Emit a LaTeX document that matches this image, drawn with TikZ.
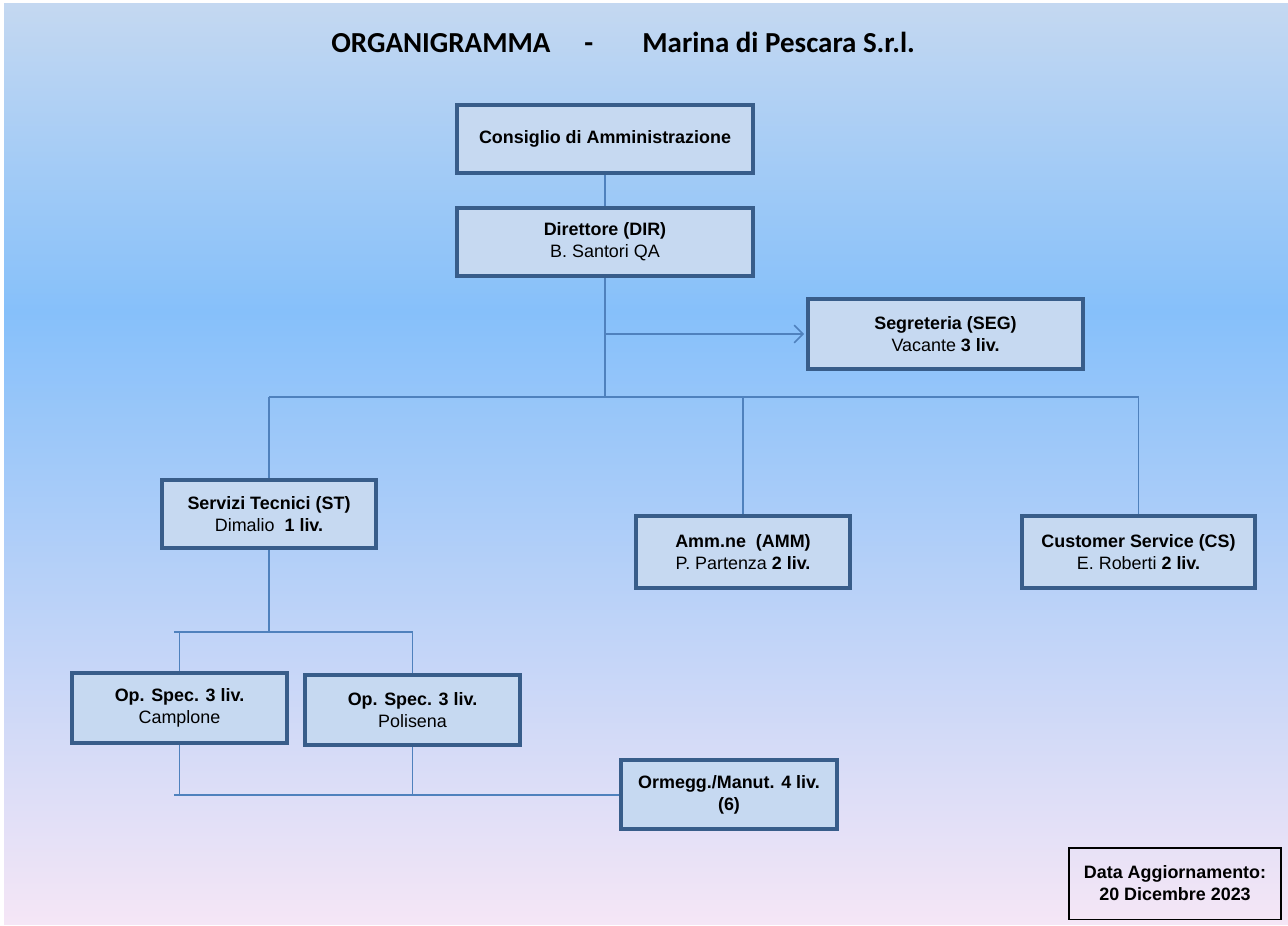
\documentclass[tikz,border=0pt]{standalone}
\usepackage{fontspec}
\setmainfont{Liberation Sans}
\newfontfamily\titlefont{Carlito}
\usepackage{xcolor}
\usetikzlibrary{arrows.meta,positioning}
\definecolor{boxfill}{RGB}{198,217,241}
\definecolor{boxline}{RGB}{56,93,138}
\definecolor{wireblue}{RGB}{79,129,189}
\definecolor{bgtop}{RGB}{196,216,241}
\definecolor{bgmid}{RGB}{134,192,250}
\definecolor{bgbot}{RGB}{245,230,246}
\pgfdeclareverticalshading{bgfade}{100bp}{color(0bp)=(bgbot); color(25bp)=(bgbot); color(58.3bp)=(bgmid); color(75bp)=(bgtop); color(100bp)=(bgtop)}

\begin{document}
\begin{tikzpicture}[x=0.02cm, y=-0.02cm,
    unit/.style={draw=boxline, line width=0.08cm, fill=boxfill, align=center, inner sep=2pt, font=\fontsize{10.2}{12.5}\selectfont},
    stamp/.style={draw=black, line width=0.03cm, align=center, inner sep=2pt, font=\fontsize{10.2}{12.5}\selectfont\bfseries},
    wire/.style={draw=wireblue, line width=0.7pt},
    >={Straight Barb[length=5pt,width=10pt,line width=0.9pt]}]
    \useasboundingbox (0,0) rectangle (1288,926);
    \fill[white] (0,0) rectangle (1288,926);
    \shade[shading=bgfade] (4,4) rectangle (1288,924);
    \node[anchor=west, inner sep=0, font=\titlefont\fontsize{16.5}{20}\selectfont\bfseries] (title) at (331,42) {ORGANIGRAMMA\hspace{0.68cm}-\hspace{0.98cm}Marina di Pescara S.r.l.};
    \node[unit, minimum width=5.92cm, minimum height=1.36cm] (cda) at (605,139) {\textbf{Consiglio di Amministrazione}};
    \node[unit, minimum width=5.92cm, minimum height=1.36cm] (dir) at (605,242) {\textbf{Direttore (DIR)}\\B. Santori QA};
    \node[unit, minimum width=5.5cm, minimum height=1.4cm] (seg) at (945.5,334) {\textbf{Segreteria (SEG)}\\Vacante \textbf{3 liv.}};
    \node[unit, minimum width=4.28cm, minimum height=1.36cm] (st) at (269,514) {\textbf{Servizi Tecnici (ST)}\\Dimalio\ \ \textbf{1 liv.}};
    \node[unit, minimum width=4.28cm, minimum height=1.44cm] (amm) at (743,552) {\textbf{Amm.ne\ \ (AMM)}\\P. Partenza \textbf{2 liv.}};
    \node[unit, minimum width=4.66cm, minimum height=1.44cm] (cs) at (1138.5,552) {\textbf{Customer Service (CS)}\\E. Roberti \textbf{2 liv.}};
    \node[unit, minimum width=4.3cm, minimum height=1.4cm] (op1) at (179.5,708) {\textbf{Op. Spec. 3 liv.}\\Camplone};
    \node[unit, minimum width=4.3cm, minimum height=1.4cm] (op2) at (412.5,710) {\textbf{Op. Spec. 3 liv.}\\Polisena};
    \node[unit, minimum width=4.32cm, minimum height=1.38cm] (orm) at (729,794.5) {\textbf{Ormegg./Manut. 4 liv.}\\\textbf{(6)}};
    \node[stamp, minimum width=4.25cm, minimum height=1.43cm] (date) at (1175,883.5) {Data Aggiornamento:\\20 Dicembre 2023};
    \coordinate (bus) at (268,397);
    \coordinate (stbus) at (174,632);
    \coordinate (lowbus) at (174,795);
    \draw[wire] (cda) -- (dir);
    \draw[wire] (dir.south) -- (dir.south |- bus);
    \draw[wire,->,shorten >=0.04cm] (dir.south |- seg.west) -- (seg.west);
    \draw[wire] (st.north |- bus) -- (cs.north |- bus);
    \draw[wire] (st.north |- bus) -- (st.north);
    \draw[wire] (amm.north |- bus) -- (amm.north);
    \draw[wire] (cs.north |- bus) -- (cs.north);
    \draw[wire] (st.south) -- (st.south |- stbus);
    \draw[wire] (stbus) -- (op2.north |- stbus);
    \draw[wire] (op1.north |- stbus) -- (op1.north);
    \draw[wire] (op2.north |- stbus) -- (op2.north);
    \draw[wire] (op1.south) -- (op1.south |- lowbus);
    \draw[wire] (op2.south) -- (op2.south |- lowbus);
    \draw[wire] (lowbus) -- (orm.west |- lowbus);
\end{tikzpicture}
\end{document}
